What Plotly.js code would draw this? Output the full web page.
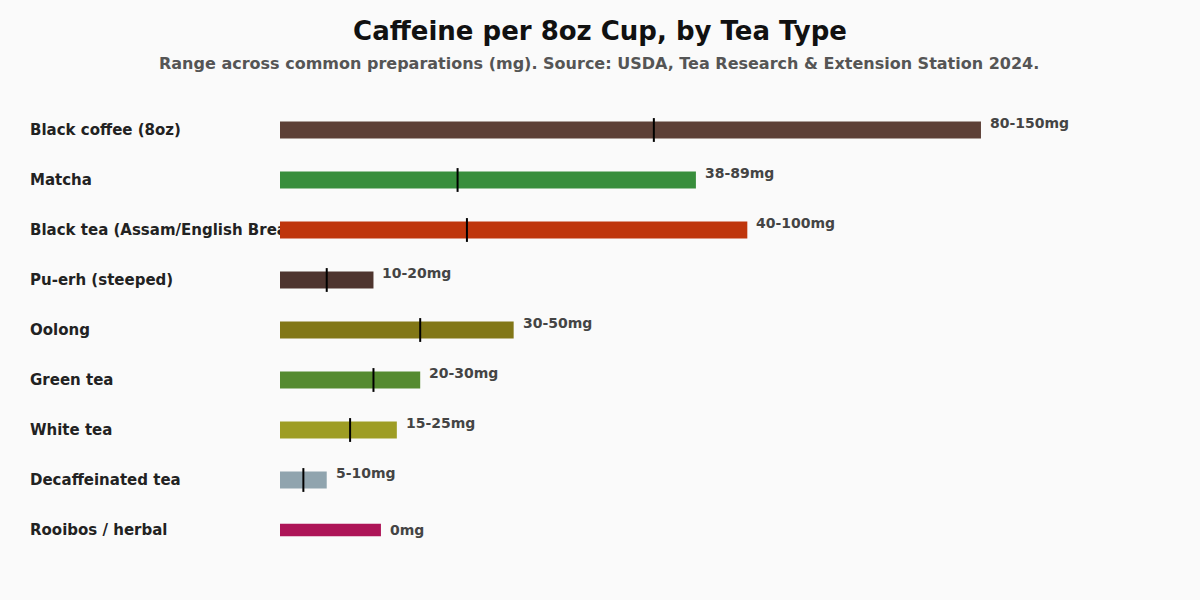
<!DOCTYPE html>
<html>
<head>
<meta charset="utf-8">
<script src="https://cdn.plot.ly/plotly-3.0.1.min.js"></script>
<style>
  html, body { margin: 0; padding: 0; background: #fafafa; }
  #chart { width: 1200px; height: 600px; }
</style>
</head>
<body>
<div id="chart"></div>
<script>
// caffeine ranges, mg per 8oz cup
var teas = ['Black coffee (8oz)', 'Matcha', 'Black tea (Assam/English Breakfast)', 'Pu-erh (steeped)',
            'Oolong', 'Green tea', 'White tea', 'Decaffeinated tea', 'Rooibos / herbal'];
var minMg = [80, 38, 40, 10, 30, 20, 15, 5, null];
var maxMg = [150, 89, 100, 20, 50, 30, 25, 10, 21.6];
var rangeText = ['80-150mg', '38-89mg', '40-100mg', '10-20mg', '30-50mg', '20-30mg', '15-25mg', '5-10mg', '0mg'];
var colors = ['#5d4037', '#388e3c', '#bf360c', '#4e342e', '#827717', '#558b2f', '#9e9d24', '#90a4ae', '#ad1457'];

var FONT = 'DejaVu Sans, sans-serif';
var xLeft = -54.14;   // label column starts here, bars start at 0

var widths = maxMg.map(function(v, i){ return minMg[i] === null ? 0.25 : 0.34; });

// row labels drawn as text of an invisible bar so the coloured bars cover any overflow
var labelTrace = {
  type: 'bar', orientation: 'h',
  y: teas,
  x: teas.map(function(){ return -xLeft; }),
  base: xLeft,
  width: 0.34,
  marker: {color: 'rgba(0,0,0,0)'},
  text: teas,
  textposition: 'inside',
  insidetextanchor: 'start',
  constraintext: 'none',
  textangle: 0,
  insidetextfont: {family: FONT, size: 15, color: '#222', weight: 'bold'},
  hoverinfo: 'skip',
  showlegend: false
};

var barTrace = {
  type: 'bar', orientation: 'h',
  y: teas,
  x: maxMg,
  width: widths,
  marker: {color: colors},
  hoverinfo: 'x+y',
  showlegend: false
};

var minTrace = {
  type: 'scatter', mode: 'markers',
  y: teas,
  x: minMg,
  marker: {symbol: 'line-ns', size: 17, color: '#000', line: {width: 2, color: '#000'}},
  hoverinfo: 'skip',
  showlegend: false
};

var annotations = teas.map(function(t, i){
  return {
    x: maxMg[i], y: t, xref: 'x', yref: 'y',
    text: '<b>' + rangeText[i] + '</b>',
    showarrow: false, xanchor: 'left', xshift: 7,
    yshift: minMg[i] === null ? 0 : 7,
    font: {family: FONT, size: 14, color: '#444'}
  };
});
annotations.push({
  x: 0.5, y: 1, xref: 'paper', yref: 'paper', yanchor: 'bottom', yshift: 30,
  text: '<b>Range across common preparations (mg). Source: USDA, Tea Research &amp; Extension Station 2024.</b>',
  showarrow: false, font: {family: FONT, size: 16, color: '#555'}
});

var layout = {
  width: 1200, height: 600,
  paper_bgcolor: '#fafafa', plot_bgcolor: '#fafafa',
  margin: {l: 27, r: 30, t: 105, b: 45},
  barmode: 'overlay',
  title: {
    text: '<b>Caffeine per 8oz Cup, by Tea Type</b>',
    x: 0.5, xanchor: 'center', y: 0.948, yanchor: 'middle',
    font: {family: FONT, size: 26, color: '#111'}
  },
  xaxis: {range: [xLeft, 190.45], visible: false, fixedrange: true},
  yaxis: {range: [8.5, -0.5], visible: false, fixedrange: true},
  annotations: annotations
};

Plotly.newPlot('chart', [labelTrace, barTrace, minTrace], layout, {displayModeBar: false});
</script>
</body>
</html>
